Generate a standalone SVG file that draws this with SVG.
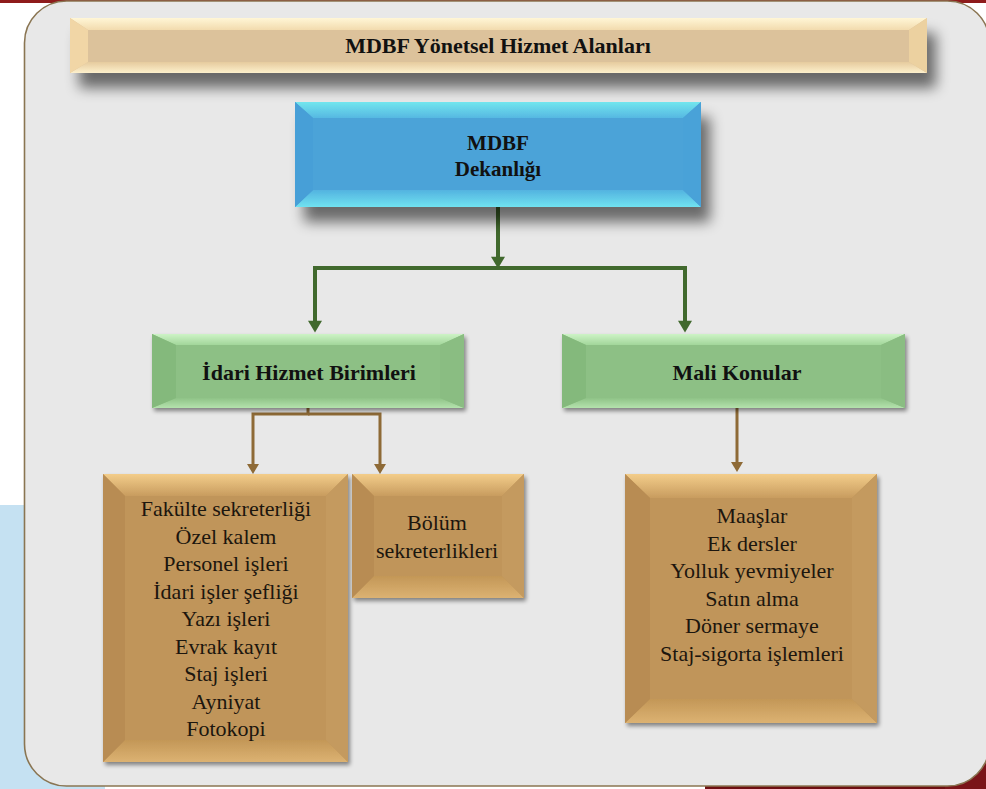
<svg xmlns="http://www.w3.org/2000/svg" width="986" height="789" viewBox="0 0 986 789">
  <defs>
    <style>
      .t { font-family: "Liberation Serif", "Times New Roman", serif; fill: #111; text-anchor: middle; }
      .b { font-weight: bold; }
      .tb { font-size: 22px; }
      .tr { font-size: 22px; fill: #1c160e; }
      .gline { fill: none; stroke: #41692d; stroke-width: 4; }
      .bline { fill: none; stroke: #8e6a36; stroke-width: 3; }
    </style>
    <filter id="shBig" x="-10%" y="-30%" width="130%" height="190%">
      <feGaussianBlur in="SourceAlpha" stdDeviation="7"/>
      <feOffset dx="9" dy="15" result="o"/>
      <feComponentTransfer><feFuncA type="linear" slope="0.55"/></feComponentTransfer>
      <feMerge><feMergeNode/><feMergeNode in="SourceGraphic"/></feMerge>
    </filter>
    <filter id="shSmall" x="-10%" y="-10%" width="125%" height="130%">
      <feGaussianBlur in="SourceAlpha" stdDeviation="2"/>
      <feOffset dx="2" dy="3" result="o"/>
      <feComponentTransfer><feFuncA type="linear" slope="0.45"/></feComponentTransfer>
      <feMerge><feMergeNode/><feMergeNode in="SourceGraphic"/></feMerge>
    </filter>
    <linearGradient id="tanTop" x1="0" y1="0" x2="0" y2="1">
      <stop offset="0" stop-color="#fff6d6"/>
      <stop offset="1" stop-color="#f2dbae"/>
    </linearGradient>
    <linearGradient id="tanBot" x1="0" y1="0" x2="0" y2="1">
      <stop offset="0" stop-color="#e6cb9e"/>
      <stop offset="1" stop-color="#fdf0cc"/>
    </linearGradient>
    <linearGradient id="blueTop" x1="0" y1="0" x2="0" y2="1">
      <stop offset="0" stop-color="#72e6ee"/>
      <stop offset="1" stop-color="#56b8e2"/>
    </linearGradient>
    <linearGradient id="blueBot" x1="0" y1="0" x2="0" y2="1">
      <stop offset="0" stop-color="#53b3e0"/>
      <stop offset="1" stop-color="#70e2f0"/>
    </linearGradient>
    <linearGradient id="greenTop" x1="0" y1="0" x2="0" y2="1">
      <stop offset="0" stop-color="#cdf3c6"/>
      <stop offset="1" stop-color="#a2d69a"/>
    </linearGradient>
    <linearGradient id="greenBot" x1="0" y1="0" x2="0" y2="1">
      <stop offset="0" stop-color="#8fc387"/>
      <stop offset="1" stop-color="#b4e2ad"/>
    </linearGradient>
    <linearGradient id="brownTop" x1="0" y1="0" x2="0" y2="1">
      <stop offset="0" stop-color="#f3cd8a"/>
      <stop offset="1" stop-color="#c89c5f"/>
    </linearGradient>
    <linearGradient id="brownBot" x1="0" y1="0" x2="0" y2="1">
      <stop offset="0" stop-color="#c39757"/>
      <stop offset="1" stop-color="#dcb272"/>
    </linearGradient>
    <marker id="agreen" markerUnits="userSpaceOnUse" markerWidth="14" markerHeight="14" viewBox="0 0 10 12" refX="7" refY="6" orient="auto">
      <path d="M0,0 L10,6 L0,12 z" fill="#41692d"/>
    </marker>
    <marker id="abrown" markerUnits="userSpaceOnUse" markerWidth="12" markerHeight="12" viewBox="0 0 10 12" refX="7" refY="6" orient="auto">
      <path d="M0,0 L10,6 L0,12 z" fill="#8e6a36"/>
    </marker>
  </defs>

  <!-- background -->
  <rect x="0" y="0" width="986" height="789" fill="#ffffff"/>
  <rect x="0" y="0" width="986" height="3" fill="#8e1b1b"/>
  <rect x="0" y="505" width="105" height="284" fill="#c5e1f2"/>
  <rect x="705" y="784" width="281" height="5" fill="#6e0f12"/>
  <rect x="945" y="740" width="41" height="49" fill="#7a1418"/>

  <!-- panel -->
  <rect x="24.5" y="1" width="965" height="785" rx="42" ry="42" fill="#e8e8e8" stroke="#8a7552" stroke-width="1.6"/>

  <!-- title bar -->
  <g id="title">
    <g filter="url(#shBig)">
      <rect x="70" y="18" width="857" height="55" fill="#dcc29b"/>
      <polygon points="70,18 927,18 909,30 88,30" fill="url(#tanTop)"/>
      <polygon points="70,73 927,73 909,62 88,62" fill="url(#tanBot)"/>
      <polygon points="70,18 88,30 88,62 70,73" fill="#f1d6a6"/>
      <polygon points="927,18 909,30 909,62 927,73" fill="#ecd1a0"/>
    </g>
    <text class="t b" x="498" y="53" font-size="22">MDBF Yönetsel Hizmet Alanları</text>
  </g>

  <!-- connectors -->
  <g id="connectors">
    <path class="gline" d="M498,207 V265" marker-end="url(#agreen)"/>
    <path class="gline" d="M498,268 H315 V329" marker-end="url(#agreen)"/>
    <path class="gline" d="M498,268 H685 V329" marker-end="url(#agreen)"/>
    <path class="bline" d="M308,408 V414 H253 V471" marker-end="url(#abrown)"/>
    <path class="bline" d="M308,414 H380 V471" marker-end="url(#abrown)"/>
    <path class="bline" d="M737,408 V469" marker-end="url(#abrown)"/>
  </g>

  <!-- MDBF Dekanlığı -->
  <g id="dekanlik">
    <g filter="url(#shBig)">
      <rect x="295" y="102" width="406" height="105" fill="#4ba3d8"/>
      <polygon points="295,102 701,102 683,118 313,118" fill="url(#blueTop)"/>
      <polygon points="295,207 701,207 683,190 313,190" fill="url(#blueBot)"/>
      <polygon points="295,102 313,118 313,190 295,207" fill="#479fd7"/>
      <polygon points="701,102 683,118 683,190 701,207" fill="#4aa2d8"/>
    </g>
    <text class="t b" x="498" y="150" font-size="21">MDBF</text>
    <text class="t b" x="498" y="176" font-size="21">Dekanlığı</text>
  </g>

  <!-- İdari Hizmet Birimleri -->
  <g id="idari">
    <g filter="url(#shSmall)">
      <rect x="152" y="334" width="312" height="74" fill="#8dc085"/>
      <polygon points="152,334 464,334 440,345 176,345" fill="url(#greenTop)"/>
      <polygon points="152,408 464,408 440,398 176,398" fill="url(#greenBot)"/>
      <polygon points="152,334 176,345 176,398 152,408" fill="#84b97c"/>
      <polygon points="464,334 440,345 440,398 464,408" fill="#8abd82"/>
    </g>
    <text class="t b tb" x="309" y="380">İdari Hizmet Birimleri</text>
  </g>

  <!-- Mali Konular -->
  <g id="mali">
    <g filter="url(#shSmall)">
      <rect x="562" y="334" width="343" height="74" fill="#8dc085"/>
      <polygon points="562,334 905,334 881,345 586,345" fill="url(#greenTop)"/>
      <polygon points="562,408 905,408 881,398 586,398" fill="url(#greenBot)"/>
      <polygon points="562,334 586,345 586,398 562,408" fill="#84b97c"/>
      <polygon points="905,334 881,345 881,398 905,408" fill="#8abd82"/>
    </g>
    <text class="t b tb" x="737" y="380">Mali Konular</text>
  </g>

  <!-- İdari units list -->
  <g id="idari-list">
    <g filter="url(#shSmall)">
      <rect x="103" y="474" width="245" height="288" fill="#c0955a"/>
      <polygon points="103,474 348,474 326,496 125,496" fill="url(#brownTop)"/>
      <polygon points="103,762 348,762 326,740 125,740" fill="url(#brownBot)"/>
      <polygon points="103,474 125,496 125,740 103,762" fill="#b88c52"/>
      <polygon points="348,474 326,496 326,740 348,762" fill="#c49a5e"/>
    </g>
    <text class="t tr" x="226" y="516">Fakülte sekreterliği</text>
    <text class="t tr" x="226" y="543.5">Özel kalem</text>
    <text class="t tr" x="226" y="571">Personel işleri</text>
    <text class="t tr" x="226" y="598.5">İdari işler şefliği</text>
    <text class="t tr" x="226" y="626">Yazı işleri</text>
    <text class="t tr" x="226" y="653.5">Evrak kayıt</text>
    <text class="t tr" x="226" y="681">Staj işleri</text>
    <text class="t tr" x="226" y="708.5">Ayniyat</text>
    <text class="t tr" x="226" y="736">Fotokopi</text>
  </g>

  <!-- Bölüm sekreterlikleri -->
  <g id="bolum">
    <g filter="url(#shSmall)">
      <rect x="352" y="474" width="172" height="124" fill="#c0955a"/>
      <polygon points="352,474 524,474 502,496 374,496" fill="url(#brownTop)"/>
      <polygon points="352,598 524,598 502,576 374,576" fill="url(#brownBot)"/>
      <polygon points="352,474 374,496 374,576 352,598" fill="#b88c52"/>
      <polygon points="524,474 502,496 502,576 524,598" fill="#c49a5e"/>
    </g>
    <text class="t tr" x="437" y="530">Bölüm</text>
    <text class="t tr" x="437" y="558">sekreterlikleri</text>
  </g>

  <!-- Mali list -->
  <g id="mali-list">
    <g filter="url(#shSmall)">
      <rect x="625" y="474" width="252" height="249" fill="#c0955a"/>
      <polygon points="625,474 877,474 852,498 650,498" fill="url(#brownTop)"/>
      <polygon points="625,723 877,723 852,699 650,699" fill="url(#brownBot)"/>
      <polygon points="625,474 650,498 650,699 625,723" fill="#b88c52"/>
      <polygon points="877,474 852,498 852,699 877,723" fill="#c49a5e"/>
    </g>
    <text class="t tr" x="752" y="523">Maaşlar</text>
    <text class="t tr" x="752" y="550.5">Ek dersler</text>
    <text class="t tr" x="752" y="578">Yolluk yevmiyeler</text>
    <text class="t tr" x="752" y="605.5">Satın alma</text>
    <text class="t tr" x="752" y="633">Döner sermaye</text>
    <text class="t tr" x="752" y="660.5">Staj-sigorta işlemleri</text>
  </g>
</svg>
